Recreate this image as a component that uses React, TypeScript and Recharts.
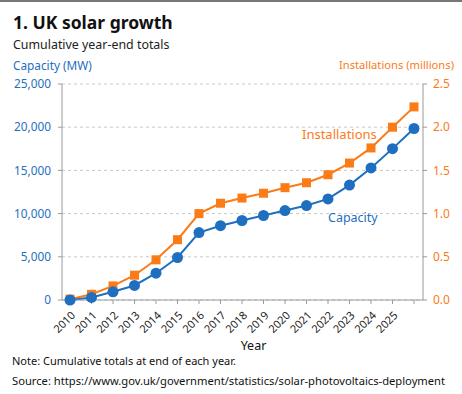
import React from 'react';
import { LineChart, Line, XAxis, YAxis, CartesianGrid } from 'recharts';

const years = ['2010', '2011', '2012', '2013', '2014', '2015', '2016', '2017', '2018', '2019', '2020', '2021', '2022', '2023', '2024', '2025', ''];
const capacityMW = [0, 300, 950, 1680, 3100, 4920, 7800, 8600, 9200, 9780, 10350, 10930, 11700, 13300, 15280, 17520, 19850];
const installationsM = [0.01, 0.066, 0.163, 0.287, 0.465, 0.698, 1.0, 1.12, 1.18, 1.236, 1.3, 1.357, 1.45, 1.585, 1.76, 2.0, 2.235];
const leftTicks = [0, 5000, 10000, 15000, 20000, 25000];
const rightTicks = [0, 0.5, 1.0, 1.5, 2.0, 2.5];

const data = years.map((y, i) => ({ year: y, capacity: capacityMW[i], installs: installationsM[i] }));

const BLUE = '#1f6fc1';
const ORANGE = '#fb7b17';
const FONT = '"Noto Sans", "Open Sans", sans-serif';

const Square = (props: any) => {
  const { cx, cy } = props;
  if (cx == null || cy == null) return null;
  return <rect x={cx - 4.5} y={cy - 4.5} width={9} height={9} fill={ORANGE} />;
};

const XTick = (props: any) => {
  const { x, y, payload } = props;
  const ax = x + 6;
  const ay = y + 10;
  return (
    <text x={ax} y={ay} transform={`rotate(-45, ${ax}, ${ay})`} textAnchor="end" fontSize={11} fill="#222" fontFamily={FONT}>
      {payload.value}
    </text>
  );
};

const YearLabel = (props: any) => {
  const vb = props.viewBox || {};
  const cx = (vb.x || 0) + (vb.width || 0) / 2 + 11;
  const cy = (vb.y || 0) + 50;
  return (
    <text x={cx} y={cy} textAnchor="middle" fontSize={12.5} fill="#111" fontFamily={FONT}>Year</text>
  );
};

export default function App() {
  return (
    <div style={{ position: 'absolute', left: 0, top: 0, width: 462, height: 394, background: '#fff', fontFamily: FONT, overflow: 'hidden' }}>
      <div style={{ position: 'absolute', left: 0, top: 0, width: 462, height: 2, background: '#777' }} />
      <div style={{ position: 'absolute', left: 13, top: 10, fontSize: 17.5, fontWeight: 700, color: '#111', whiteSpace: 'nowrap' }}>1. UK solar growth</div>
      <div style={{ position: 'absolute', left: 13, top: 36, fontSize: 12.4, color: '#222', whiteSpace: 'nowrap' }}>Cumulative year-end totals</div>
      <div style={{ position: 'absolute', left: 13, top: 57, fontSize: 11.8, color: BLUE, whiteSpace: 'nowrap' }}>Capacity (MW)</div>
      <div style={{ position: 'absolute', right: 8, top: 57, fontSize: 11.2, color: ORANGE, whiteSpace: 'nowrap' }}>Installations (millions)</div>
      <div style={{ position: 'absolute', left: 0, top: 0 }}>
        <LineChart width={462} height={394} data={data} margin={{ top: 84, right: 0, bottom: 54, left: 0 }}>
          <CartesianGrid vertical={false} stroke="#c8c8c8" strokeDasharray="3 3" yAxisId="left" />
          <XAxis dataKey="year" padding={{ left: 8, right: 9 }} interval={0} tick={<XTick />} tickSize={4} stroke="#9a9a9a" height={40} label={<YearLabel />} />
          <YAxis yAxisId="left" orientation="left" width={62} domain={[0, 25000]} ticks={leftTicks} tickFormatter={(v: number) => v.toLocaleString('en-US')} tick={{ fill: BLUE, fontSize: 11.8, fontFamily: FONT }} tickSize={4} tickMargin={7} stroke="#9a9a9a" />
          <YAxis yAxisId="right" orientation="right" width={39} domain={[0, 2.5]} ticks={rightTicks} tickFormatter={(v: number) => v.toFixed(1)} tick={{ fill: ORANGE, fontSize: 12, fontFamily: FONT }} tickSize={4} tickMargin={6} stroke="#9a9a9a" />
          <Line yAxisId="right" dataKey="installs" stroke={ORANGE} strokeWidth={2} dot={<Square />} isAnimationActive={false} />
          <Line yAxisId="left" dataKey="capacity" stroke={BLUE} strokeWidth={2} dot={{ r: 5.5, fill: BLUE, stroke: BLUE, strokeWidth: 0 }} isAnimationActive={false} />
        </LineChart>
      </div>
      <div style={{ position: 'absolute', left: 302, top: 125, fontSize: 13, color: ORANGE, whiteSpace: 'nowrap' }}>Installations</div>
      <div style={{ position: 'absolute', left: 328, top: 209, fontSize: 12.5, color: BLUE, whiteSpace: 'nowrap' }}>Capacity</div>
      <div style={{ position: 'absolute', left: 12, top: 353, fontSize: 11, color: '#111', whiteSpace: 'nowrap' }}>Note: Cumulative totals at end of each year.</div>
      <div style={{ position: 'absolute', left: 12, top: 373, fontSize: 11.2, color: '#111', whiteSpace: 'nowrap' }}>Source: https://www.gov.uk/government/statistics/solar-photovoltaics-deployment</div>
    </div>
  );
}
